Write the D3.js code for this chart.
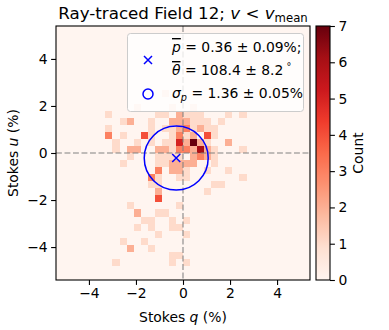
<!DOCTYPE html>
<html>
<head>
<meta charset="utf-8">
<script src="https://cdn.jsdelivr.net/npm/d3@7"></script>
<style>
  body { margin: 0; background: #fff; }
  svg { display: block; font-family: "DejaVu Sans", sans-serif; }
</style>
</head>
<body>
<svg id="chart" width="389" height="330"></svg>
<script>
// histogram bins are 0.3 wide, index k covers [0.3k, 0.3k+0.3]
const binSize = 0.3;
const axisRange = [-5.4, 5.4];
const axisTicks = [-4, -2, 0, 2, 4];
const countTicks = [0, 1, 2, 3, 4, 5, 6, 7];
const countMax = 7;

// [qBin, uBin, count]
const cells = [
  [-7, 6, 1], [-3, 8, 1], [1, 6, 1], [-2, 6, 1],
  [-11, 5, 1], [-4, 5, 1], [-3, 5, 1], [-1, 5, 2], [0, 5, 1], [1, 5, 1], [2, 5, 1], [6, 5, 1], [8, 5, 1],
  [-9, 4, 1], [-8, 4, 2], [-5, 4, 1], [-2, 4, 2], [-1, 4, 2], [0, 4, 2], [1, 4, 1], [2, 4, 1], [3, 4, 1], [5, 4, 1],
  [-11, 3, 1], [-5, 3, 1], [-3, 3, 1], [-2, 3, 1], [-1, 3, 2], [0, 3, 3], [1, 3, 1], [2, 3, 2], [3, 3, 1], [4, 3, 1],
  [-11, 2, 3], [-9, 2, 1], [-6, 2, 4], [-5, 2, 1], [-2, 2, 1], [-1, 2, 3], [0, 2, 1], [1, 2, 2], [3, 2, 4], [4, 2, 1],
  [-10, 1, 1], [-7, 1, 1], [-5, 1, 1], [-3, 1, 1], [-2, 1, 1], [-1, 1, 5], [0, 1, 2], [1, 1, 7], [2, 1, 2], [3, 1, 1], [6, 1, 2],
  [-10, 0, 1], [-8, 0, 2], [-7, 0, 2], [-4, 0, 2], [-3, 0, 2], [-2, 0, 1], [-1, 0, 3], [0, 0, 3], [1, 0, 2], [2, 0, 6], [3, 0, 2], [4, 0, 1], [8, 0, 1],
  [-8, -1, 1], [-4, -1, 1], [-3, -1, 1], [-2, -1, 1], [-1, -1, 1], [1, -1, 2], [2, -1, 3], [3, -1, 2], [4, -1, 1],
  [-9, -2, 1], [-4, -2, 1], [-3, -2, 1], [-2, -2, 2], [-1, -2, 2], [0, -2, 2], [1, -2, 2], [4, -2, 1],
  [-4, -3, 3], [-2, -3, 2], [-1, -3, 2], [0, -3, 1], [3, -3, 1], [6, -3, 1],
  [-5, -4, 3], [-4, -4, 1], [-1, -4, 1], [0, -4, 1], [8, -4, 1],
  [-5, -5, 1], [-4, -5, 1], [4, -5, 1], [5, -5, 1],
  [-4, -6, 2], [3, -6, 1],
  [-4, -7, 4],
  [-8, -8, 1], [-1, -8, 1],
  [-7, -9, 2], [-4, -9, 1], [-3, -9, 1],
  [-6, -10, 1], [-5, -10, 1], [-2, -10, 1], [0, -10, 1],
  [-7, -11, 1], [-5, -11, 1], [-2, -11, 1], [-1, -11, 1],
  [-4, -12, 1], [0, -12, 1],
  [-9, -13, 1], [-6, -13, 1],
  [-8, -14, 2], [-5, -14, 1],
  [-2, -15, 1], [-1, -15, 1],
  [-10, -16, 1], [-2, -16, 1], [0, -16, 1]
];

const meanP = 0.36, meanTheta = 108.4, sigmaP = 1.36;
// mean Stokes q, u from p and theta
const meanQ = meanP * Math.cos(2 * meanTheta * Math.PI / 180);
const meanU = meanP * Math.sin(2 * meanTheta * Math.PI / 180);

const redsStops = ["#fff5f0", "#fee0d2", "#fcbba1", "#fc9272", "#fb6a4a", "#ef3b2c", "#cb181d", "#a50f15", "#67000d"];
const color = d3.scaleLinear()
  .domain(d3.range(redsStops.length).map(k => k * countMax / (redsStops.length - 1)))
  .range(redsStops)
  .interpolate(d3.interpolateRgb);

const svg = d3.select("#chart");
const plot = { left: 56, right: 310, top: 26, bottom: 280 };
const x = d3.scaleLinear().domain(axisRange).range([plot.left, plot.right]);
const y = d3.scaleLinear().domain(axisRange).range([plot.bottom, plot.top]);

// background = zero counts
svg.append("rect")
  .attr("x", plot.left).attr("y", plot.top)
  .attr("width", plot.right - plot.left).attr("height", plot.bottom - plot.top)
  .attr("fill", color(0));

svg.append("g").selectAll("rect")
  .data(cells)
  .join("rect")
  .attr("x", d => x(d[0] * binSize))
  .attr("y", d => y((d[1] + 1) * binSize))
  .attr("width", d => x((d[0] + 1) * binSize) - x(d[0] * binSize))
  .attr("height", d => y(d[1] * binSize) - y((d[1] + 1) * binSize))
  .attr("fill", d => color(d[2]))
  .attr("shape-rendering", "crispEdges");

// zero lines
svg.append("line")
  .attr("x1", x(0)).attr("x2", x(0)).attr("y1", plot.top).attr("y2", plot.bottom)
  .attr("stroke", "#808080").attr("stroke-opacity", 0.65).attr("stroke-width", 1.6)
  .attr("stroke-dasharray", "5.9,2.6");
svg.append("line")
  .attr("y1", y(0)).attr("y2", y(0)).attr("x1", plot.left).attr("x2", plot.right)
  .attr("stroke", "#808080").attr("stroke-opacity", 0.65).attr("stroke-width", 1.6)
  .attr("stroke-dasharray", "5.9,2.6");

// mean and spread
svg.append("circle")
  .attr("cx", x(meanQ)).attr("cy", y(meanU))
  .attr("r", x(sigmaP) - x(0))
  .attr("fill", "none").attr("stroke", "blue").attr("stroke-width", 1.5);

function cross(g, cx, cy, s) {
  g.append("path")
    .attr("d", `M${cx - s},${cy - s}L${cx + s},${cy + s}M${cx - s},${cy + s}L${cx + s},${cy - s}`)
    .attr("stroke", "blue").attr("stroke-width", 1.5).attr("fill", "none");
}
cross(svg, x(meanQ), y(meanU), 4);

// axes
const fs = 13.9;
const minus = d => String(d).replace("-", "\u2212");
const xAxis = svg.append("g")
  .attr("transform", `translate(0,${plot.bottom})`)
  .call(d3.axisBottom(x).tickValues(axisTicks).tickSizeOuter(0).tickSize(4.9).tickPadding(3.5).tickFormat(minus));
const yAxis = svg.append("g")
  .attr("transform", `translate(${plot.left},0)`)
  .call(d3.axisLeft(y).tickValues(axisTicks).tickSizeOuter(0).tickSize(4.9).tickPadding(3.5).tickFormat(minus));
[xAxis, yAxis].forEach(a => {
  a.select(".domain").remove();
  a.selectAll("line").attr("stroke", "#000").attr("stroke-width", 1.1);
  a.selectAll("text").attr("font-size", fs).attr("font-family", "DejaVu Sans").attr("fill", "#000");
});

svg.append("rect")
  .attr("x", plot.left).attr("y", plot.top)
  .attr("width", plot.right - plot.left).attr("height", plot.bottom - plot.top)
  .attr("fill", "none").attr("stroke", "#000").attr("stroke-width", 1.1);

// axis labels
const xl = svg.append("text").attr("x", x(0)).attr("y", 322)
  .attr("text-anchor", "middle").attr("font-size", fs);
xl.append("tspan").text("Stokes ");
xl.append("tspan").attr("font-style", "italic").text("q");
xl.append("tspan").text(" (%)");

const yl = svg.append("text")
  .attr("transform", `translate(18,${y(0)}) rotate(-90)`)
  .attr("text-anchor", "middle").attr("font-size", fs);
yl.append("tspan").text("Stokes ");
yl.append("tspan").attr("font-style", "italic").text("u");
yl.append("tspan").text(" (%)");

// title
const t = svg.append("text").attr("x", 183).attr("y", 19)
  .attr("text-anchor", "middle").attr("font-size", 16.7);
t.append("tspan").text("Ray-traced Field 12; ");
t.append("tspan").attr("font-style", "italic").text("v");
t.append("tspan").text(" < ");
t.append("tspan").attr("font-style", "italic").text("v");
t.append("tspan").attr("font-size", 11.7).attr("dy", 2.5).text("mean");

// legend
const lg = svg.append("g");
lg.append("rect")
  .attr("x", 127.5).attr("y", 33.5).attr("width", 176).attr("height", 78).attr("rx", 3)
  .attr("fill", "#fff").attr("fill-opacity", 0.8).attr("stroke", "#ccc").attr("stroke-width", 1);
cross(lg, 148, 60, 4);
lg.append("circle").attr("cx", 148).attr("cy", 94).attr("r", 5)
  .attr("fill", "none").attr("stroke", "blue").attr("stroke-width", 1.5);

const l1 = lg.append("text").attr("x", 172).attr("y", 52).attr("font-size", fs);
l1.append("tspan").attr("font-style", "italic").style("text-decoration", "overline").text("p");
l1.append("tspan").text(` = ${meanP.toFixed(2)} \u00b1 0.09%;`);
const l2 = lg.append("text").attr("x", 172).attr("y", 75).attr("font-size", fs);
l2.append("tspan").attr("font-style", "italic").style("text-decoration", "overline").text("\u03b8");
l2.append("tspan").text(` = ${meanTheta.toFixed(1)} \u00b1 8.2`);
l2.append("tspan").attr("font-size", 9.7).attr("dy", -5).text(" \u00b0");
const l3 = lg.append("text").attr("x", 172).attr("y", 98).attr("font-size", fs);
l3.append("tspan").attr("font-style", "italic").text("\u03c3");
l3.append("tspan").attr("font-style", "italic").attr("font-size", 9.7).attr("dy", 2.5).text("p");
l3.append("tspan").attr("dy", -2.5).text(` = ${sigmaP.toFixed(2)} \u00b1 0.05%`);

// colorbar
const cb = { left: 316, right: 330 };
const cy = d3.scaleLinear().domain([0, countMax]).range([plot.bottom, plot.top]);
const grad = svg.append("defs").append("linearGradient")
  .attr("id", "reds").attr("x1", 0).attr("x2", 0).attr("y1", 1).attr("y2", 0);
d3.range(0, countMax + 0.001, countMax / 56).forEach(v => {
  grad.append("stop").attr("offset", v / countMax).attr("stop-color", color(v));
});
svg.append("rect")
  .attr("x", cb.left).attr("y", plot.top).attr("width", cb.right - cb.left).attr("height", plot.bottom - plot.top)
  .attr("fill", "url(#reds)").attr("stroke", "#000").attr("stroke-width", 1.1);
const cAxis = svg.append("g")
  .attr("transform", `translate(${cb.right},0)`)
  .call(d3.axisRight(cy).tickValues(countTicks).tickSizeOuter(0).tickSize(4.9).tickPadding(3.5).tickFormat(d3.format("d")));
cAxis.select(".domain").remove();
cAxis.selectAll("line").attr("stroke", "#000").attr("stroke-width", 1.1);
cAxis.selectAll("text").attr("font-size", fs).attr("font-family", "DejaVu Sans").attr("fill", "#000");

svg.append("text")
  .attr("transform", `translate(363,${(plot.top + plot.bottom) / 2}) rotate(-90)`)
  .attr("text-anchor", "middle").attr("font-size", fs).text("Count");
</script>
</body>
</html>
